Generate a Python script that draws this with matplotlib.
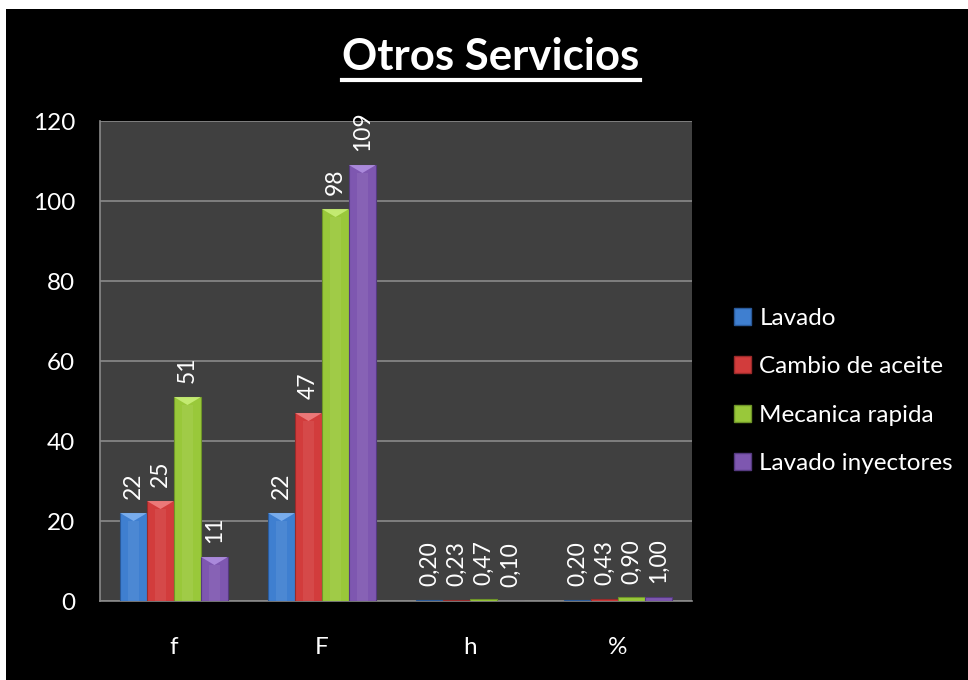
import matplotlib
matplotlib.use("Agg")
import matplotlib.pyplot as plt
from matplotlib.patches import Rectangle, Polygon, Patch
from matplotlib.lines import Line2D
import numpy as np

categories = ['f', 'F', 'h', '%']
series_names = ['Lavado', 'Cambio de aceite', 'Mecanica rapida', 'Lavado inyectores']
lavado = [22, 22, 0.20, 0.20]
cambio = [25, 47, 0.23, 0.43]
mecanica = [51, 98, 0.47, 0.90]
inyectores = [11, 109, 0.10, 1.00]
yticks = [0, 20, 40, 60, 80, 100, 120]
title = 'Otros Servicios'

series = [lavado, cambio, mecanica, inyectores]
colors = ['#3F7FD0', '#D23C3C', '#99C83A', '#7E57B0']
dark = ['#2A5A9A', '#9A2A2A', '#6E9428', '#553A80']
light = ['#7FB2F0', '#F07F7F', '#C8EE78', '#B08FE0']

plt.rcParams['font.family'] = ['Lato', 'DejaVu Sans']
FS = 17.5

W, H = 968, 680
fig = plt.figure(figsize=(W / 100, H / 100), dpi=100, facecolor='white')
fig.patches.append(Rectangle((6 / W, 0), 1, 1 - 9 / H, transform=fig.transFigure,
                             facecolor='black', edgecolor='none', zorder=-10))

ax = fig.add_axes([100 / W, 1 - 601 / H, 592 / W, 480 / H])
ax.set_zorder(2)
ax.set_facecolor('#404040')
ax.set_ylim(0, 120)
ax.set_xlim(-0.5, 3.5)
ax.set_yticks(yticks)
ax.yaxis.grid(True, color='#8a8a8a', linewidth=1.2)
ax.set_axisbelow(True)
ax.tick_params(axis='both', length=0, colors='white', labelsize=FS)
ax.tick_params(axis='y', pad=18)
ax.tick_params(axis='x', pad=26)
for s in ['top', 'right']:
    ax.spines[s].set_visible(False)
for s in ['left', 'bottom']:
    ax.spines[s].set_color('#8a8a8a')
    ax.spines[s].set_linewidth(1.2)

x = np.arange(len(categories))
ax.set_xticks(x)
ax.set_xticklabels(categories)
bw = 0.182
for i, (vals, c) in enumerate(zip(series, colors)):
    offs = (i - 1.5) * bw
    bars = ax.bar(x + offs, vals, width=bw, color=c, edgecolor=dark[i], linewidth=0.8, zorder=3)
    for j, b in enumerate(bars):
        bx, bwid, bh = b.get_x(), b.get_width(), b.get_height()
        th = min(2.0, bh)
        if bh > 3:
            ax.add_patch(Polygon([[bx, bh], [bx + bwid, bh], [bx + bwid / 2, bh - th]],
                                 closed=True, facecolor=light[i], edgecolor='none', zorder=4, alpha=0.9))
            ax.add_patch(Rectangle((bx + bwid * 0.3, 0), bwid * 0.4, bh - th,
                                   facecolor='white', alpha=0.07, edgecolor='none', zorder=4))
        v = vals[j]
        lab = str(int(v)) if j < 2 else ('%.2f' % v).replace('.', ',')
        ax.annotate(lab, (bx + bwid / 2, bh), xytext=(0, 10), textcoords='offset points',
                    rotation=90, ha='center', va='bottom', color='white', fontsize=16.5, zorder=5)

handles = [Patch(facecolor=c, edgecolor=d) for c, d in zip(colors, dark)]
leg = fig.legend(handles, series_names, loc='center left', bbox_to_anchor=(712 / W, 1 - 391 / H),
                 frameon=False, fontsize=FS, labelcolor='white', handlelength=0.7, handleheight=0.7,
                 handletextpad=0.35, labelspacing=1.13)

t = fig.text(491 / W, 1 - 57 / H, title, ha='center', va='center',
             color='white', fontsize=31.5, fontweight='bold')
fig.canvas.draw()
bb = t.get_window_extent()
y_ul = bb.y0 - 3
fig.add_artist(Line2D([bb.x0 / W, bb.x1 / W], [y_ul / H, y_ul / H], color='white', linewidth=3,
                      transform=fig.transFigure))

fig.savefig('out.png', dpi=100, facecolor='white')
